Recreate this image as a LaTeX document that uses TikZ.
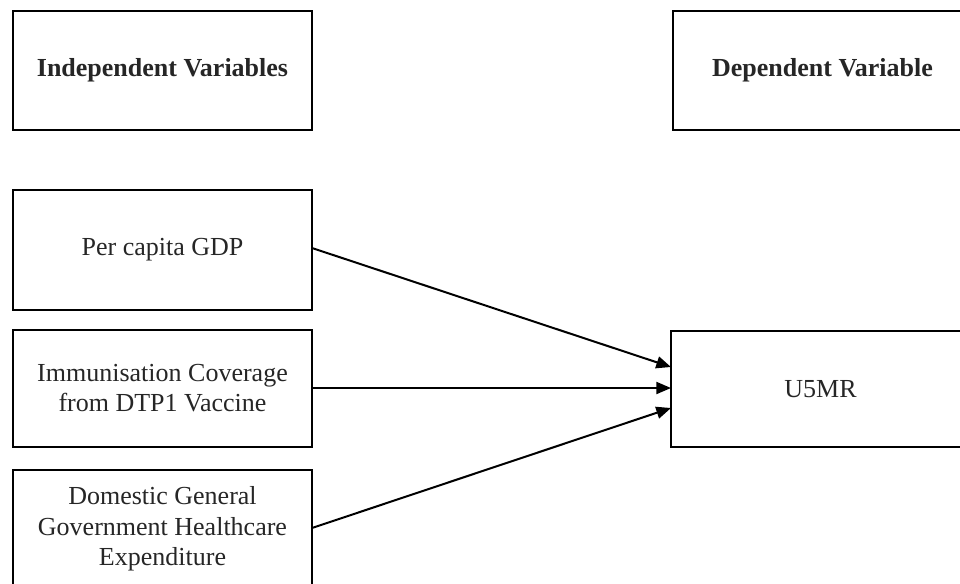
\documentclass[tikz,border=0pt]{standalone}
\usepackage{fontspec}
\setmainfont{Liberation Serif}
\usetikzlibrary{arrows.meta}
\begin{document}
\begin{tikzpicture}[x=0.75pt,y=-0.75pt,
  box/.style={draw=black,line width=1.5pt,fill=none},
  lbl/.style={align=center,font=\fontsize{19.5}{22.8}\selectfont,text=black!85},
  conn/.style={line width=1.5pt,-{Triangle[length=11pt,width=9pt]}}]
\useasboundingbox (0,0) rectangle (960,583);
\clip (0,0) rectangle (960,583);
% boxes
\draw[box] (13,11) rectangle (312,130);
\node[lbl,font=\fontsize{19.5}{22.8}\selectfont\bfseries] (iv) at (162.5,70.5) {Independent Variables};
\draw[box] (673,11) rectangle (972,130);
\node[lbl,font=\fontsize{19.5}{22.8}\selectfont\bfseries] (dv) at (822.5,70.5) {Dependent Variable};
\draw[box] (13,190) rectangle (312,310);
\node[lbl] (gdp) at (162.5,250) {Per capita GDP};
\draw[box] (13,330) rectangle (312,447);
\node[lbl] (imm) at (162.5,388) {Immunisation Coverage\\from DTP1 Vaccine};
\draw[box] (13,470) rectangle (312,590);
\node[lbl] (dom) at (162.5,529) {Domestic General\\Government Healthcare\\Expenditure};
\draw[box] (671,331) rectangle (970,447);
\node[lbl] (u5) at (820.5,389) {U5MR};
% anchor coordinates
\coordinate (gdpE) at (312,248);
\coordinate (immE) at (312,388);
\coordinate (domE) at (312,528);
\coordinate (u5a) at (671,367);
\coordinate (u5b) at (671,388);
\coordinate (u5c) at (671,408);
\draw[conn] (gdpE) -- (u5a);
\draw[conn] (immE) -- (u5b);
\draw[conn] (domE) -- (u5c);
\end{tikzpicture}
\end{document}
